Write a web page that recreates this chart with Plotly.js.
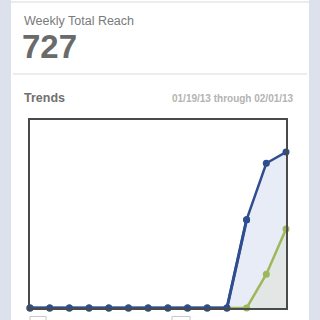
<!DOCTYPE html>
<html><head><meta charset="utf-8">
<script src="https://cdn.plot.ly/plotly-3.0.1.min.js"></script>
<style>html,body{margin:0;padding:0;background:#dde1ec;}#c{width:320px;height:320px;}</style>
</head><body><div id="c"></div>
<script>
const days = ["01/19","01/20","01/21","01/22","01/23","01/24","01/25","01/26","01/27","01/28","01/29","01/30","01/31","02/01"];
const totalReach = [0,0,0,0,0,0,0,0,0,0,0,47,77,83];
const paidReach  = [0,0,0,0,0,0,0,0,0,0,0,0,18,42];
const headline = "Weekly Total Reach";
const bigValue = "727";
const sectionTitle = "Trends";
const dateRange = "01/19/13 through 02/01/13";

const W=320,H=320;
const px = x => x/W, py = y => 1 - y/H;
const idx = days.map((d,i)=>i);

const traces = [
  {x: idx, y: totalReach, type:'scatter', mode:'lines+markers', fill:'tozeroy',
   fillcolor:'rgba(232,236,246,1)', line:{color:'#2f4d8f', width:2.5},
   marker:{color:'#2f4d8f', size:7}, hoverinfo:'skip', cliponaxis:false},
  {x: idx, y: paidReach, type:'scatter', mode:'lines+markers', fill:'tozeroy',
   fillcolor:'rgba(226,230,228,1)', line:{color:'#9db85c', width:2.5},
   marker:{color:'#9db85c', size:7}, hoverinfo:'skip', cliponaxis:false},
  {x: idx.slice(0,12), y: totalReach.slice(0,12), type:'scatter', mode:'lines+markers',
   line:{color:'#2f4d8f', width:3}, marker:{color:'#2f4d8f', size:7}, hoverinfo:'skip', cliponaxis:false}
];

const layout = {
  width:W, height:H, margin:{l:0,r:0,t:0,b:0},
  paper_bgcolor:'#dde1ec', plot_bgcolor:'#ffffff', showlegend:false,
  xaxis:{domain:[px(30),px(286)], range:[0,13], showgrid:false, zeroline:false,
         showticklabels:false, ticks:'', showline:true, mirror:true, linecolor:'#4a4a4a', linewidth:2, fixedrange:true},
  yaxis:{domain:[py(308),py(120)], range:[0,100], showgrid:false, zeroline:false,
         showticklabels:false, ticks:'', showline:true, mirror:true, linecolor:'#4a4a4a', linewidth:2, fixedrange:true},
  shapes:[
    {type:'rect', xref:'paper', yref:'paper', x0:px(11), x1:px(309), y0:0, y1:1, fillcolor:'#ffffff', line:{width:0}, layer:'below'},
    {type:'line', xref:'paper', yref:'paper', x0:px(11), x1:px(309), y0:py(2), y1:py(2), line:{color:'#e4e6ea', width:1.5}},
    {type:'line', xref:'paper', yref:'paper', x0:px(13), x1:px(307), y0:py(74), y1:py(74), line:{color:'#e4e6ea', width:1.5}},
    {type:'rect', xref:'paper', yref:'paper', x0:px(30), x1:px(46), y0:py(322), y1:py(316.5), fillcolor:'#ffffff', line:{color:'#c8c8c8', width:1}},
    {type:'rect', xref:'paper', yref:'paper', x0:px(172), x1:px(190), y0:py(322), y1:py(316.5), fillcolor:'#ffffff', line:{color:'#c8c8c8', width:1}}
  ],
  annotations:[
    {xref:'paper', yref:'paper', x:px(22), y:py(21), xanchor:'left', yanchor:'middle', showarrow:false,
     text:headline, font:{family:'Liberation Sans, Arial, sans-serif', size:12.5, color:'#7a7a7a'}},
    {xref:'paper', yref:'paper', x:px(20), y:py(46), xanchor:'left', yanchor:'middle', showarrow:false,
     text:'<b>'+bigValue+'</b>', font:{family:'Liberation Sans, Arial, sans-serif', size:33, color:'#6a6a6a'}},
    {xref:'paper', yref:'paper', x:px(22), y:py(98), xanchor:'left', yanchor:'middle', showarrow:false,
     text:'<b>'+sectionTitle+'</b>', font:{family:'Liberation Sans, Arial, sans-serif', size:12.5, color:'#707070'}},
    {xref:'paper', yref:'paper', x:px(296), y:py(98), xanchor:'right', yanchor:'middle', showarrow:false,
     text:'<b>'+dateRange+'</b>', font:{family:'Liberation Sans, Arial, sans-serif', size:10, color:'#b3b3b3'}}
  ]
};
Plotly.newPlot('c', traces, layout, {staticPlot:true, displayModeBar:false});
</script></body></html>
